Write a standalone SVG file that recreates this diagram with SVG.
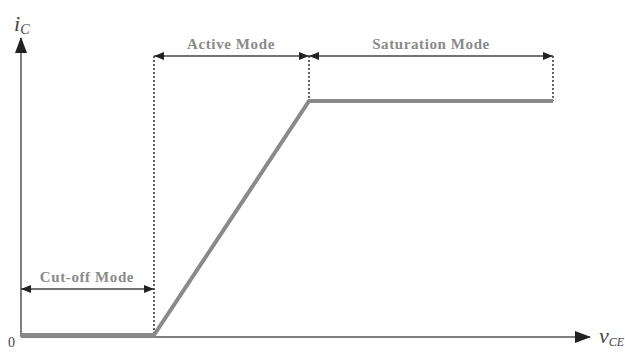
<svg xmlns="http://www.w3.org/2000/svg" width="625" height="352" viewBox="0 0 625 352">
  <style>
    .axis { stroke: #555; stroke-width: 1.5; fill: none; }
    .curve { stroke: #8a8a8a; stroke-width: 4; fill: none; stroke-linejoin: miter; }
    .guide { stroke: #333; stroke-width: 1.5; stroke-dasharray: 2 2; fill: none; }
    .span { stroke: #444; stroke-width: 1.3; fill: none; }
    .mode { font-family: "Liberation Serif", serif; font-weight: bold; font-size: 15px; letter-spacing: 0.6px; fill: #8a8a8a; text-anchor: middle; }
    .var { font-family: "Liberation Serif", serif; font-style: italic; fill: #444; }
  </style>
  <defs>
    <marker id="bigHead" viewBox="0 0 16 12" refX="15" refY="6" markerWidth="16" markerHeight="12" markerUnits="userSpaceOnUse" orient="auto">
      <path d="M0,0 L16,6 L0,12 Z" fill="#222"/>
    </marker>
    <marker id="spanHead" viewBox="0 0 10 8" refX="10" refY="4" markerWidth="10" markerHeight="8" markerUnits="userSpaceOnUse" orient="auto-start-reverse">
      <path d="M0,0 L10,4 L0,8 Z" fill="#222"/>
    </marker>
  </defs>

  <g id="axes">
    <line class="axis" x1="21" y1="337" x2="21" y2="38" marker-end="url(#bigHead)"/>
    <line class="axis" x1="21" y1="337" x2="590" y2="337" marker-end="url(#bigHead)"/>
    <text class="var" x="14" y="31" font-size="22">i<tspan font-size="14" dy="3">C</tspan></text>
    <text class="var" x="599" y="343" font-size="22">v<tspan font-size="12" dy="3">CE</tspan></text>
    <text x="8" y="347" font-family="Liberation Serif, serif" font-size="14" fill="#444">0</text>
  </g>

  <g id="boundaries">
    <line class="guide" x1="154" y1="56" x2="154" y2="336"/>
    <line class="guide" x1="309" y1="56" x2="309" y2="101"/>
    <line class="guide" x1="553" y1="56" x2="553" y2="101"/>
  </g>

  <g id="transfer-curve">
    <polyline class="curve" points="21,335 154,335 309,101 553,101"/>
  </g>

  <g id="cutoff-mode">
    <line class="span" x1="21" y1="289" x2="154" y2="289" marker-start="url(#spanHead)" marker-end="url(#spanHead)"/>
    <text class="mode" x="87" y="282">Cut-off Mode</text>
  </g>

  <g id="active-mode">
    <line class="span" x1="154" y1="56" x2="309" y2="56" marker-start="url(#spanHead)" marker-end="url(#spanHead)"/>
    <text class="mode" x="231" y="49">Active Mode</text>
  </g>

  <g id="saturation-mode">
    <line class="span" x1="309" y1="56" x2="553" y2="56" marker-start="url(#spanHead)" marker-end="url(#spanHead)"/>
    <text class="mode" x="431" y="49">Saturation Mode</text>
  </g>
</svg>
